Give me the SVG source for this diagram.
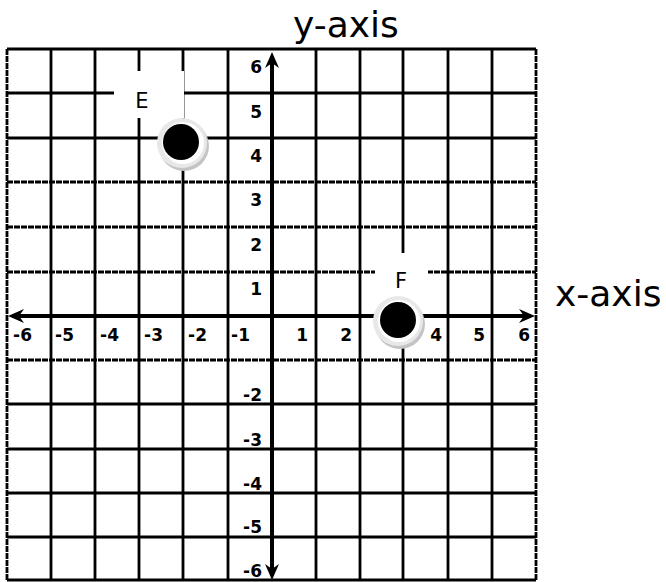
<svg xmlns="http://www.w3.org/2000/svg" width="666" height="582" viewBox="0 0 666 582">
  <style>
    .grid line { stroke: #000; stroke-width: 2.8; }
    .grid line.dot { stroke-dasharray: 6 1; }
    .axis { stroke: #000; stroke-width: 4; fill: none; }
    .num { font-family: "DejaVu Sans", sans-serif; font-weight: bold; font-size: 17px; fill: #000; }
    .ttl { font-family: "DejaVu Sans", sans-serif; font-size: 36px; fill: #000; }
    .lbl { font-family: "DejaVu Sans", sans-serif; font-size: 21px; fill: #000; text-anchor: middle; }
  </style>
  <defs>
    <marker id="arr" markerUnits="userSpaceOnUse" viewBox="-17 -8 18 16" refX="-4" refY="0" markerWidth="18" markerHeight="16" orient="auto-start-reverse">
      <path d="M0,0 L-16,-7 L-11,0 L-16,7 Z" fill="#000"/>
    </marker>
  </defs>
  <rect width="666" height="582" fill="#fff"/>

  <g id="grid" class="grid">
    <line class="dot" x1="7" y1="49" x2="7" y2="580"/>
    <line x1="51" y1="49" x2="51" y2="580"/>
    <line x1="95" y1="49" x2="95" y2="580"/>
    <line x1="139" y1="49" x2="139" y2="580"/>
    <line x1="183" y1="49" x2="183" y2="580"/>
    <line x1="228" y1="49" x2="228" y2="580"/>
    <line x1="316" y1="49" x2="316" y2="580"/>
    <line x1="360" y1="49" x2="360" y2="580"/>
    <line x1="403" y1="49" x2="403" y2="580"/>
    <line x1="448" y1="49" x2="448" y2="580"/>
    <line x1="492" y1="49" x2="492" y2="580"/>
    <line class="dot" x1="536" y1="49" x2="536" y2="580"/>

    <line x1="7" y1="49" x2="536" y2="49"/>
    <line x1="7" y1="93" x2="536" y2="93"/>
    <line x1="7" y1="138" x2="536" y2="138"/>
    <line class="dot" x1="7" y1="182" x2="536" y2="182"/>
    <line class="dot" x1="7" y1="227" x2="536" y2="227"/>
    <line class="dot" x1="7" y1="272" x2="536" y2="272"/>
    <line class="dot" x1="7" y1="360" x2="536" y2="360"/>
    <line x1="7" y1="404" x2="536" y2="404"/>
    <line x1="7" y1="449" x2="536" y2="449"/>
    <line x1="7" y1="493" x2="536" y2="493"/>
    <line x1="7" y1="537" x2="536" y2="537"/>
    <line x1="7" y1="580" x2="536" y2="580"/>
  </g>

  <g id="connectors">
    <line class="axis" x1="272" y1="56" x2="272" y2="576" marker-start="url(#arr)" marker-end="url(#arr)"/>
    <line class="axis" x1="12" y1="316" x2="531" y2="316" marker-start="url(#arr)" marker-end="url(#arr)"/>
  </g>

  <g id="tick-labels" class="num">
    <g text-anchor="end">
      <text x="262" y="73">6</text>
      <text x="262" y="118">5</text>
      <text x="262" y="162">4</text>
      <text x="262" y="206">3</text>
      <text x="262" y="251">2</text>
      <text x="262" y="295">1</text>
      <text x="262" y="401">-2</text>
      <text x="262" y="446">-3</text>
      <text x="262" y="490">-4</text>
      <text x="262" y="533">-5</text>
      <text x="262" y="577">-6</text>

      <text x="32" y="341">-6</text>
      <text x="74" y="341">-5</text>
      <text x="119" y="341">-4</text>
      <text x="163" y="341">-3</text>
      <text x="207" y="341">-2</text>
      <text x="250" y="341">-1</text>
      <text x="308" y="341">1</text>
      <text x="352" y="341">2</text>
      <text x="442" y="341">4</text>
      <text x="485" y="341">5</text>
      <text x="530" y="341">6</text>
    </g>
  </g>

  <g id="point-E">
    <rect x="114" y="71" width="70" height="47" fill="#fff"/>
    <text class="lbl" x="142" y="108">E</text>
    <circle cx="184" cy="146" r="25" fill="#c4c4c4"/>
    <circle cx="182" cy="143" r="25" fill="#e8e8e8"/>
    <circle cx="183" cy="143" r="21" fill="#fff"/>
    <circle cx="181" cy="142" r="18" fill="#000"/>
  </g>

  <g id="point-F">
    <rect x="375" y="253" width="53" height="48" fill="#fff"/>
    <text class="lbl" x="401" y="288">F</text>
    <circle cx="400" cy="324" r="25" fill="#c4c4c4"/>
    <circle cx="398" cy="321" r="25" fill="#e8e8e8"/>
    <circle cx="399" cy="321" r="21" fill="#fff"/>
    <circle cx="398" cy="320" r="18" fill="#000"/>
  </g>

  <g id="titles">
    <text class="ttl" x="293" y="37">y-axis</text>
    <text class="ttl" x="555" y="306">x-axis</text>
  </g>
</svg>
